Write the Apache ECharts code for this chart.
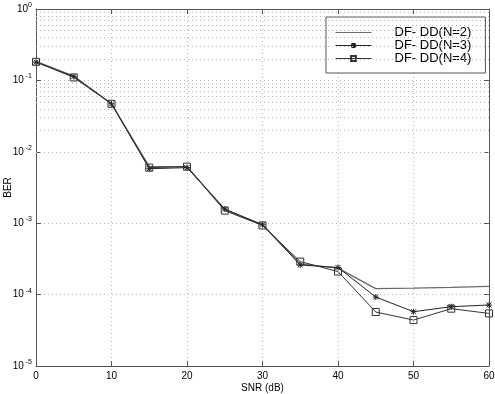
<!DOCTYPE html>
<html>
<head>
<meta charset="utf-8">
<script src="https://cdn.jsdelivr.net/npm/echarts@6/dist/echarts.min.js"></script>
<style>html,body{margin:0;padding:0;background:#fff;}#c{width:495px;height:394px;}</style>
</head>
<body>
<div id="c"></div>
<script>
var snr = [0, 5, 10, 15, 20, 25, 30, 35, 40, 45, 50, 55, 60];
var berN2 = [0.185, 0.115, 0.047, 0.0062, 0.0062, 0.00155, 0.00095, 0.00027, 0.000235, 0.000121, 0.000123, 0.000126, 0.00013];
var berN3 = [0.18, 0.113, 0.047, 0.0058, 0.006, 0.00158, 0.00095, 0.00026, 0.00024, 0.0000925, 0.0000576, 0.0000677, 0.0000715];
var berN4 = [0.182, 0.11, 0.047, 0.006, 0.0062, 0.0015, 0.00093, 0.00029, 0.00021, 0.000057, 0.000044, 0.0000635, 0.0000545];
var seriesNames = ['DF- DD(N=2)', 'DF- DD(N=3)', 'DF- DD(N=4)'];
var xTicks = [0, 10, 20, 30, 40, 50, 60];
var yExponents = [-5, -4, -3, -2, -1, 0];
var minorMultipliers = [2, 3, 4, 5, 6, 7, 8, 9];

function pairs(ys) { return snr.map(function (x, i) { return [x, ys[i]]; }); }

var minorGrid = [];
for (var d = yExponents[0]; d < yExponents[yExponents.length - 1]; d++) {
  minorMultipliers.forEach(function (k) { minorGrid.push({ yAxis: k * Math.pow(10, d) }); });
}

var font = 'Liberation Sans, Arial, Helvetica, sans-serif';
var gridColor = '#b8b8b8';
var dotted = [1, 3];
var frameColor = '#555';

var starPath = 'path://M0,0L10,10M10,0L0,10M5,-1L5,11M-1,5L11,5';

var chart = echarts.init(document.getElementById('c'), null, { renderer: 'canvas' });
var option = {
  animation: false,
  backgroundColor: '#fff',
  textStyle: { fontFamily: font },
  grid: { left: 36, right: 6, top: 9, bottom: 28, containLabel: false, outerBoundsMode: 'none' },
  xAxis: [{
    type: 'value', min: 0, max: 60, interval: 10,
    name: 'SNR (dB)', nameLocation: 'middle', nameGap: 17, nameMoveOverlap: false,
    nameTextStyle: { fontSize: 10, color: '#000', fontFamily: font },
    axisLine: { show: true, lineStyle: { color: frameColor, width: 1 } },
    axisTick: { show: true, inside: true, length: 5, lineStyle: { color: frameColor } },
    axisLabel: { fontSize: 10, color: '#000', margin: 5, fontFamily: font },
    splitLine: { show: true, lineStyle: { color: gridColor, type: dotted, width: 1 } }
  }, {
    type: 'value', min: 0, max: 60, interval: 10, position: 'top',
    axisLine: { show: true, onZero: false, lineStyle: { color: frameColor, width: 1 } },
    axisTick: { show: true, inside: true, length: 5, lineStyle: { color: frameColor } },
    axisLabel: { show: false }, splitLine: { show: false }
  }],
  yAxis: [{
    type: 'log', logBase: 10, min: 1e-5, max: 1,
    name: 'BER', nameLocation: 'middle', nameGap: 23, nameRotate: 90, nameMoveOverlap: false,
    nameTextStyle: { fontSize: 10, color: '#000', fontFamily: font },
    axisLine: { show: true, lineStyle: { color: frameColor, width: 1 } },
    axisTick: { show: true, inside: true, length: 5, lineStyle: { color: frameColor } },
    axisLabel: {
      margin: 4, color: '#000', fontFamily: font,
      formatter: function (v) {
        var e = Math.round(Math.log10(v));
        return '{a|10}{b|' + (e === 0 ? '0' : ' ' + e) + '}';
      },
      rich: {
        a: { fontSize: 10, color: '#000', fontFamily: font },
        b: { fontSize: 7, color: '#000', fontFamily: font, padding: [0, 0, 8, 0] }
      }
    },
    splitLine: { show: true, lineStyle: { color: gridColor, type: dotted, width: 1 } }
  }, {
    type: 'log', logBase: 10, min: 1e-5, max: 1, position: 'right',
    axisLine: { show: true, onZero: false, lineStyle: { color: frameColor, width: 1 } },
    axisTick: { show: true, inside: true, length: 5, lineStyle: { color: frameColor } },
    axisLabel: { show: false }, splitLine: { show: false }
  }],
  legend: {
    data: [
      { name: seriesNames[0], itemStyle: { opacity: 0 } },
      { name: seriesNames[1] },
      { name: seriesNames[2] }
    ],
    orient: 'vertical',
    left: 326, top: 17,
    padding: [9, 14, 8, 9],
    backgroundColor: '#fff',
    borderColor: '#555', borderWidth: 1,
    itemWidth: 36, itemHeight: 6, itemGap: 0,
    align: 'left',
    lineStyle: { width: 1 },
    textStyle: { fontSize: 13, lineHeight: 12, color: '#000', fontFamily: font, padding: [0, 0, 0, 18] }
  },
  series: [{
    name: 'minor-grid', type: 'line', data: [], silent: true, z: 1,
    markLine: {
      silent: true, symbol: ['none', 'none'], label: { show: false },
      lineStyle: { color: gridColor, type: dotted, width: 1 },
      data: minorGrid, animation: false
    }
  }, {
    name: seriesNames[0], type: 'line', data: pairs(berN2), z: 3,
    symbol: 'circle', showSymbol: false,
    lineStyle: { color: '#6a6a6a', width: 1.3 },
    itemStyle: { color: '#6a6a6a' }
  }, {
    name: seriesNames[1], type: 'line', data: pairs(berN3), z: 4,
    symbol: starPath, symbolSize: 6,
    lineStyle: { color: '#222', width: 1 },
    itemStyle: { color: 'rgba(0,0,0,0)', borderColor: '#222', borderWidth: 1 }
  }, {
    name: seriesNames[2], type: 'line', data: pairs(berN4), z: 5,
    symbol: 'rect', symbolSize: 7,
    lineStyle: { color: '#333', width: 1 },
    itemStyle: { color: 'rgba(0,0,0,0)', borderColor: '#333', borderWidth: 1 }
  }]
};
chart.setOption(option);
</script>
</body>
</html>
